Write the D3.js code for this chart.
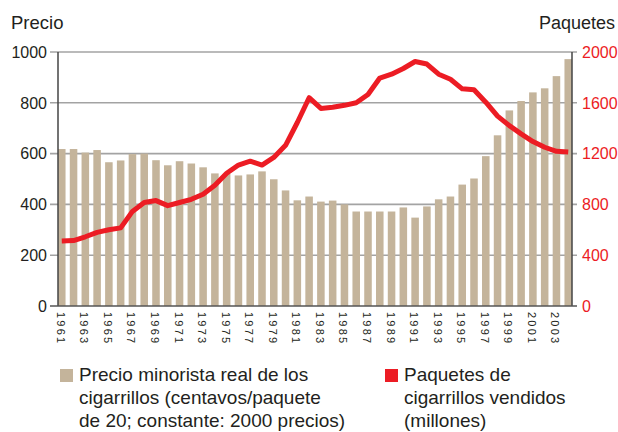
<!DOCTYPE html>
<html>
<head>
<meta charset="utf-8">
<script src="https://cdn.jsdelivr.net/npm/d3@7"></script>
<style>
    body { margin: 0; background: #fff; }
</style>
</head>
<body>
<svg id="chart" width="618" height="432"></svg>
<script>
"use strict";

// data
const years = d3.range(1961, 2005);
const price = [618, 618, 604, 614, 566, 573, 598, 600, 574, 554,
               570, 561, 546, 522, 520, 514, 518, 530, 499, 455,
               416, 431, 411, 415, 400, 372, 372, 372, 372, 388,
               348, 392, 420, 431, 478, 502, 590, 672, 770, 807,
               841, 857, 905, 972];
const packs = [512, 515, 545, 580, 600, 615, 745, 815, 830, 790,
               815, 840, 880, 950, 1045, 1110, 1140, 1110, 1170, 1265,
               1445, 1640, 1556, 1565, 1580, 1600, 1665, 1795, 1825, 1870,
               1925, 1905, 1825, 1785, 1710, 1703, 1605, 1495, 1420, 1355,
               1295, 1250, 1218, 1212];
const leftTicks = [0, 200, 400, 600, 800, 1000];
const rightTicks = [0, 400, 800, 1200, 1600, 2000];
const legendPrice = ["Precio minorista real de los", "cigarrillos (centavos/paquete", "de 20; constante: 2000 precios)"];
const legendPacks = ["Paquetes de", "cigarrillos vendidos", "(millones)"];


// consts
const margin = {left: 58, top: 52},
      width = 514,
      height = 254,
      barColor = "#c4b49b",
      lineColor = "#ec1c24",
      textColor = "#231f20";


let svg = d3.select("#chart").attr("font-family", "'Liberation Sans', Arial, sans-serif");
let g = svg.append("g").attr("transform", `translate(${margin.left}, ${margin.top})`);


// scales
let scaleX = d3.scaleBand().domain(years).range([0, width]).paddingInner(0.36).paddingOuter(0);
let scaleY = d3.scaleLinear().domain([0, 1000]).range([height, 0]);
let scaleY2 = d3.scaleLinear().domain([0, 2000]).range([height, 0]);


// grid lines
g.append("g")
.selectAll("line")
.data(leftTicks.filter(d => d > 0))
.join("line")
.attr("x1", -8)
.attr("x2", width + 5)
.attr("y1", d => scaleY(d))
.attr("y2", d => scaleY(d))
.attr("stroke", "#a3a3a3")
.attr("stroke-width", 1.6);


// bars
g.append("g")
.selectAll("rect")
.data(years)
.join("rect")
.attr("x", d => scaleX(d))
.attr("width", scaleX.bandwidth())
.attr("y", (d, i) => scaleY(price[i]))
.attr("height", (d, i) => height - scaleY(price[i]))
.attr("fill", barColor);


// axis lines
g.append("line").attr("x1", 0).attr("x2", 0).attr("y1", 0).attr("y2", height)
.attr("stroke", "#444").attr("stroke-width", 1.5);
g.append("line").attr("x1", width).attr("x2", width).attr("y1", 0).attr("y2", height)
.attr("stroke", "#444").attr("stroke-width", 1.5);
g.append("line").attr("x1", -8).attr("x2", width + 5).attr("y1", height).attr("y2", height)
.attr("stroke", "#555").attr("stroke-width", 1.6);


// line
let line = d3.line()
.x((d, i) => scaleX(years[i]) + scaleX.bandwidth() / 2)
.y(d => scaleY2(d));

g.append("path")
.datum(packs)
.attr("d", line)
.attr("fill", "none")
.attr("stroke", lineColor)
.attr("stroke-width", 5)
.attr("stroke-linejoin", "round");


// left tick labels
g.append("g")
.selectAll("text")
.data(leftTicks)
.join("text")
.attr("x", -11)
.attr("y", d => scaleY(d))
.attr("dy", "0.36em")
.attr("text-anchor", "end")
.attr("font-size", 16)
.attr("fill", textColor)
.text(d => d);


// right tick labels
g.append("g")
.selectAll("text")
.data(rightTicks)
.join("text")
.attr("x", width + 10)
.attr("y", d => scaleY2(d))
.attr("dy", "0.36em")
.attr("text-anchor", "start")
.attr("font-size", 16)
.attr("fill", lineColor)
.text(d => d);


// x labels, every other year
g.append("g")
.selectAll("text")
.data(years.filter(d => d % 2 == 1))
.join("text")
.attr("transform", d => `translate(${scaleX(d) + scaleX.bandwidth() / 2 - 1}, ${height + 6}) rotate(90)`)
.attr("dy", "0.36em")
.attr("font-size", 11)
.attr("letter-spacing", 2.2)
.attr("fill", textColor)
.text(d => d);


// axis titles
svg.append("text").attr("x", 11).attr("y", 29).attr("font-size", 18.5).attr("fill", textColor).text("Precio");
svg.append("text").attr("x", 615).attr("y", 29).attr("text-anchor", "end").attr("font-size", 18).attr("fill", textColor).text("Paquetes");


// legend
function legendItem(x, color, lines) {
    let lg = svg.append("g").attr("transform", `translate(${x}, 369)`);
    lg.append("rect").attr("width", 13).attr("height", 13).attr("fill", color);
    lg.selectAll("text")
    .data(lines)
    .join("text")
    .attr("x", 19)
    .attr("y", (d, i) => 12 + i * 23)
    .attr("font-size", 19)
    .attr("fill", textColor)
    .text(d => d);
}
legendItem(60, barColor, legendPrice);
legendItem(385, lineColor, legendPacks);
</script>
</body>
</html>
